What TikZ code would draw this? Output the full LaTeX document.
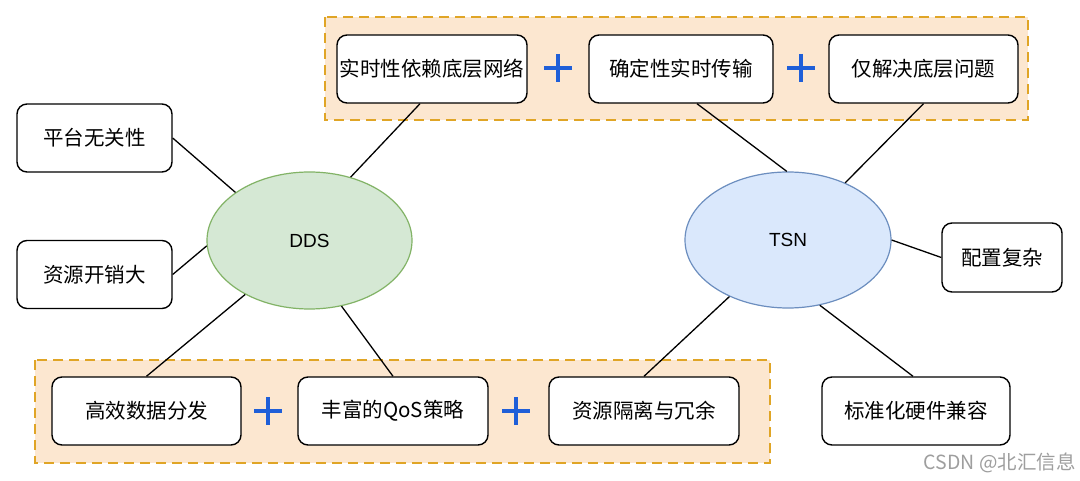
\documentclass[tikz,border=0pt]{standalone}
\usepackage{fontspec}
\setmainfont{Noto Sans CJK SC}
\newfontfamily\latinsans{Liberation Sans}
\usetikzlibrary{shapes.geometric}
\definecolor{panelfill}{HTML}{FCE7D0}
\definecolor{panelborder}{HTML}{E0A526}
\definecolor{ddsfill}{HTML}{D5E8D4}
\definecolor{ddsdraw}{HTML}{82B366}
\definecolor{tsnfill}{HTML}{DAE8FC}
\definecolor{tsndraw}{HTML}{6C8EBF}
\definecolor{plusblue}{HTML}{1F5FD8}
\begin{document}
\begin{tikzpicture}[x=1pt,y=-1pt,
  box/.style={draw=black, line width=1.4pt, fill=white, rounded corners=10pt,
    minimum height=68pt, inner sep=0pt, font=\fontsize{20.5}{24}\selectfont},
  panel/.style={draw=panelborder, fill=panelfill, dash pattern=on 10pt off 6pt, line width=1.5pt},
  link/.style={draw=black, line width=1.3pt},
  blob/.style={ellipse, line width=1.2pt, inner sep=0pt, font=\latinsans\fontsize{19}{22}\selectfont},
  plussign/.style={minimum size=28pt, inner sep=0pt,
    path picture={\draw[plusblue, line width=4pt]
      (path picture bounding box.north) -- (path picture bounding box.south)
      (path picture bounding box.west) -- (path picture bounding box.east);}}
]
\useasboundingbox[fill=white] (0,0) rectangle (1080,481);

% panels
\path[panel] (325,17) rectangle (1028,120);
\path[panel] (35,360) rectangle (770,463);

% top boxes
\node[box, minimum width=190pt] (t1) at (432,69) {实时性依赖底层网络};
\node[box, minimum width=184pt] (t2) at (681,69) {确定性实时传输};
\node[box, minimum width=189pt] (t3) at (923.5,69) {仅解决底层问题};
\node[plussign] (p1) at (558,68) {};
\node[plussign] (p2) at (801,68) {};

% left boxes
\node[box, minimum width=155pt] (l1) at (94.5,138) {平台无关性};
\node[box, minimum width=155pt] (l2) at (94.5,274.5) {资源开销大};

% ellipses
\node[blob, draw=ddsdraw, fill=ddsfill, minimum width=205pt, minimum height=137pt] (DDS) at (309.5,240.5) {DDS};
\node[blob, draw=tsndraw, fill=tsnfill, minimum width=206pt, minimum height=136pt] (TSN) at (788,240) {TSN};

% right boxes
\node[box, minimum width=120pt, minimum height=69pt] (r1) at (1002,257.5) {配置复杂};
\node[box, minimum width=188pt] (r2) at (916,411) {标准化硬件兼容};

% bottom boxes
\node[box, minimum width=189pt] (b1) at (146.5,411) {高效数据分发};
\node[box, minimum width=190pt] (b2) at (393,411) {丰富的QoS策略};
\node[box, minimum width=190pt] (b3) at (644,411) {资源隔离与冗余};
\node[plussign] (p3) at (268,411) {};
\node[plussign] (p4) at (516,411) {};

% connectors
\draw[link] (l1.east) -- (DDS.147);
\draw[link] (l2.east) -- (DDS.183);
\draw[link] ([xshift=-12pt]t1.south) -- (DDS.57);
\draw[link] ([xshift=16pt]t2.south) -- (TSN.91);
\draw[link] (t3.south) -- (TSN.45);
\draw[link] (r1.west) -- (TSN.east);
\draw[link] (b3.north) -- (TSN.-136);
\draw[link] ([xshift=-3pt]r2.north) -- (TSN.-64);
\draw[link] (b1.north) -- (DDS.-140);
\draw[link] (b2.north) -- (DDS.-64);

% watermark
\node[anchor=east, text=black!38, inner sep=0pt, font=\fontsize{19.5}{22}\selectfont] (wm) at (1076,463) {CSDN @北汇信息};
\end{tikzpicture}
\end{document}
